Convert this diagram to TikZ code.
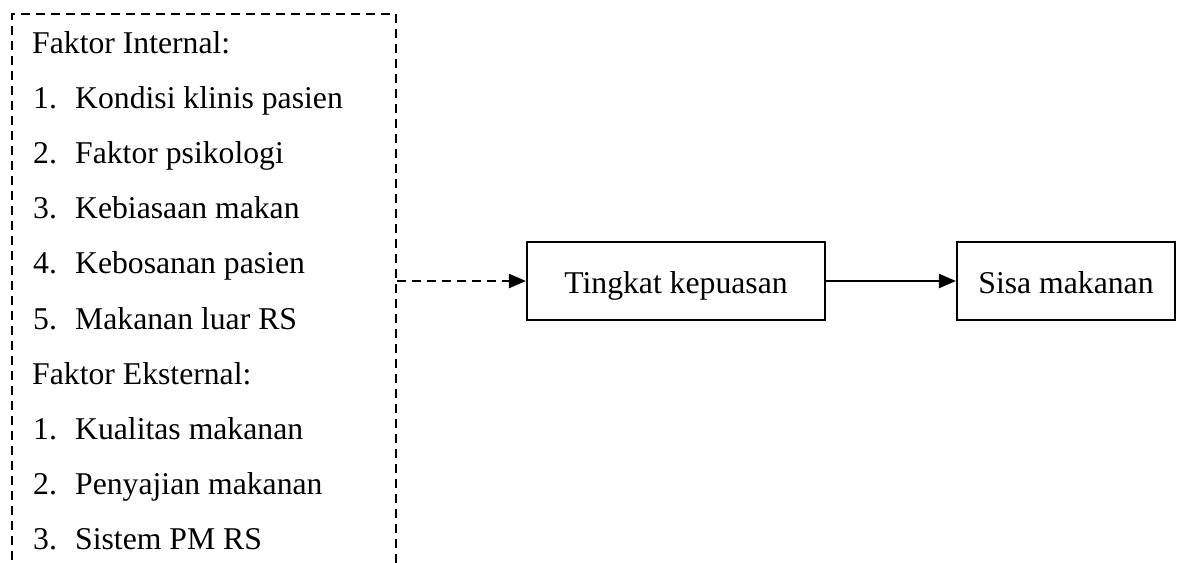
\documentclass[tikz,border=0pt]{standalone}
\usepackage{fontspec}
\setmainfont{Liberation Serif}
\usetikzlibrary{arrows.meta}

\tikzset{
	listtext/.style={anchor=base west, inner sep=0pt},
	factorbox/.style={draw, line width=2.4pt, dash pattern=on 9pt off 6pt,
		minimum width=384pt, minimum height=600pt, anchor=north west},
	varbox/.style={draw, line width=2.1pt, minimum height=78pt},
	link/.style={line width=2.4pt, -{Triangle[length=17pt,width=14pt]}},
}

\begin{document}
\begin{tikzpicture}[x=1pt, y=-1pt, font=\fontsize{31.7}{38}\selectfont]
\useasboundingbox (0,0) rectangle (1177,562);
\clip (0,0) rectangle (1177,562);
\node[factorbox] (factors) at (11,13) {};
\node[listtext] (hdrint) at (32,53) {Faktor Internal:};
\foreach \n/\t in {1/Kondisi klinis pasien, 2/Faktor psikologi,
	3/Kebiasaan makan, 4/Kebosanan pasien, 5/Makanan luar RS}
	\node[listtext] (int\n) at (33,{53+55.2*\n})
		{\makebox[42pt][l]{\n.}\t};
\node[listtext] (hdrext) at (32,{53+55.2*6}) {Faktor Eksternal:};
\foreach \n/\t in {1/Kualitas makanan, 2/Penyajian makanan, 3/Sistem PM RS}
	\node[listtext] (ext\n) at (33,{53+55.2*(6+\n)})
		{\makebox[42pt][l]{\n.}\t};
\node[varbox, minimum width=298pt] (tingkat) at (676,281) {};
\node[anchor=base, inner sep=0pt] (tingkattxt) at (676,293) {Tingkat kepuasan};
\node[varbox, minimum width=218pt] (sisa) at (1066,281) {};
\node[anchor=base, inner sep=0pt] (sisatxt) at (1066,293) {Sisa makanan};
\draw[link, dash pattern=on 9pt off 6pt] (factors.east |- tingkat.west) -- (tingkat.west);
\draw[link] (tingkat.east) -- (sisa.west);
\end{tikzpicture}
\end{document}
